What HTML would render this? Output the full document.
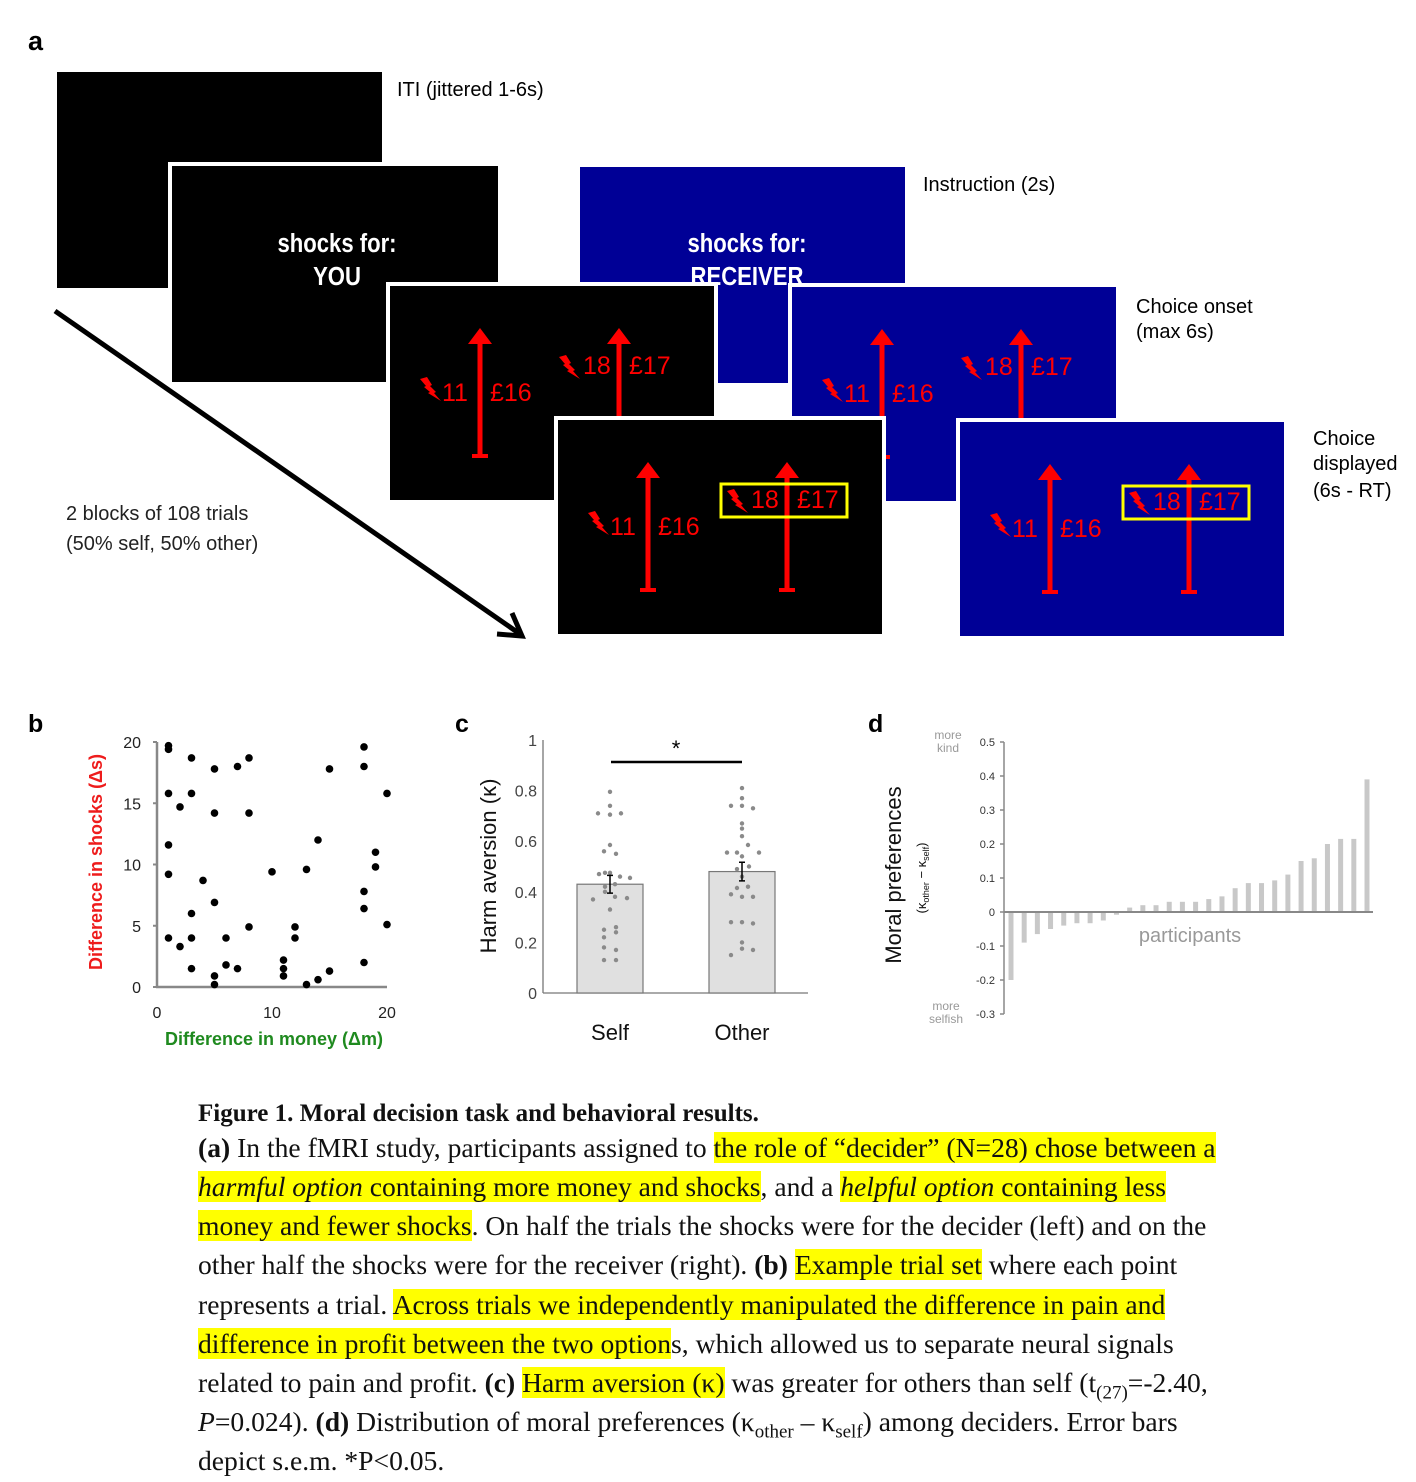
<!DOCTYPE html>
<html><head><meta charset="utf-8">
<style>
body{margin:0;background:#fff;width:1416px;height:1482px;overflow:hidden;position:relative;font-family:"Liberation Sans",sans-serif}
svg{position:absolute;left:0;top:0}
.cap{position:absolute;left:198px;font-family:"Liberation Serif",serif;font-size:27.6px;white-space:nowrap;color:#111;line-height:30px}
.hl{background:#ffff00}
</style></head>
<body>
<svg id="fig" width="1416" height="1482">
  <g>
    <text x="28" y="50" font-size="27" font-weight="bold">a</text>
    <rect x="57" y="72" width="325" height="216" fill="#000"/>
    <text x="397" y="96" font-size="20">ITI (jittered 1-6s)</text>
    <rect x="170" y="164" width="330" height="220" fill="#000" stroke="#fff" stroke-width="4"/>
    <g transform="translate(337,0) scale(0.85,1)" fill="#fff" font-size="26" font-weight="bold" text-anchor="middle">
      <text x="0" y="252">shocks for:</text>
      <text x="0" y="285">YOU</text>
    </g>
    <rect x="580" y="167" width="325" height="216" fill="#000096"/>
    <g transform="translate(747,0) scale(0.85,1)" fill="#fff" font-size="26" font-weight="bold" text-anchor="middle">
      <text x="0" y="252">shocks for:</text>
      <text x="0" y="285">RECEIVER</text>
    </g>
    <text x="923" y="191" font-size="20">Instruction (2s)</text>
    <g id="screens"></g>
    <text x="1136" y="313" font-size="20">Choice onset</text>
    <text x="1136" y="338" font-size="20">(max 6s)</text>
    <text x="1313" y="445" font-size="20">Choice</text>
    <text x="1313" y="470" font-size="20">displayed</text>
    <text x="1313" y="497" font-size="20">(6s - RT)</text>
    <text x="66" y="520" font-size="20" fill="#222">2 blocks of 108 trials</text>
    <text x="66" y="550" font-size="20" fill="#222">(50% self, 50% other)</text>
    <line x1="55" y1="311" x2="520" y2="634" stroke="#000" stroke-width="5"/>
    <polyline points="497,634 522,636 512,613" fill="none" stroke="#000" stroke-width="5"/>
  </g>

  <g id="pb">
    <text x="28" y="732" font-size="25" font-weight="bold">b</text>
    <text transform="translate(102,862) rotate(-90)" text-anchor="middle" font-size="18" font-weight="bold" fill="#ee1c1c">Difference in shocks (Δs)</text>
    <text x="274" y="1045" text-anchor="middle" font-size="18" font-weight="bold" fill="#1f8a1f">Difference in money (Δm)</text>
  </g>

  <g id="pc">
    <text x="455" y="732" font-size="25" font-weight="bold">c</text>
    <text transform="translate(496,866) rotate(-90)" text-anchor="middle" font-size="22" fill="#111">Harm aversion (κ)</text>
  </g>

  <g id="pd">
    <text x="868" y="732" font-size="25" font-weight="bold">d</text>
    <text transform="translate(901,875) rotate(-90)" text-anchor="middle" font-size="22" fill="#111">Moral preferences</text>
    <text transform="translate(926,878) rotate(-90)" text-anchor="middle" font-size="13" fill="#111">(κ<tspan font-size="9" dy="3">other</tspan><tspan dy="-3"> − κ</tspan><tspan font-size="9" dy="3">self</tspan><tspan dy="-3">)</tspan></text>
    <text x="948" y="739" text-anchor="middle" font-size="12" fill="#999">more</text>
    <text x="948" y="752" text-anchor="middle" font-size="12" fill="#999">kind</text>
    <text x="946" y="1010" text-anchor="middle" font-size="12" fill="#999">more</text>
    <text x="946" y="1023" text-anchor="middle" font-size="12" fill="#999">selfish</text>
    <text x="1190" y="942" text-anchor="middle" font-size="20" fill="#999">participants</text>
  </g>
</svg>

<div class="cap" style="top:1099px;font-size:25px;font-weight:bold">Figure 1. Moral decision task and behavioral results.</div>
<div class="cap" style="top:1133px"><b>(a)</b> In the fMRI study, participants assigned to <span class="hl">the role of “decider” (N=28) chose between a</span></div>
<div class="cap" style="top:1172px"><span class="hl"><i>harmful option</i> containing more money and shocks</span>, and a <span class="hl"><i>helpful option</i> containing less</span></div>
<div class="cap" style="top:1211px"><span class="hl">money and fewer shocks</span>. On half the trials the shocks were for the decider (left) and on the</div>
<div class="cap" style="top:1250px">other half the shocks were for the receiver (right). <b>(b)</b> <span class="hl">Example trial set</span> where each point</div>
<div class="cap" style="top:1290px">represents a trial. <span class="hl">Across trials we independently manipulated the difference in pain and</span></div>
<div class="cap" style="top:1329px"><span class="hl">difference in profit between the two option</span>s, which allowed us to separate neural signals</div>
<div class="cap" style="top:1368px">related to pain and profit. <b>(c)</b> <span class="hl">Harm aversion (κ)</span> was greater for others than self (t<sub style="font-size:19px">(27)</sub>=-2.40,</div>
<div class="cap" style="top:1407px"><i>P</i>=0.024). <b>(d)</b> Distribution of moral preferences (κ<sub style="font-size:19px">other</sub> – κ<sub style="font-size:19px">self</sub>) among deciders. Error bars</div>
<div class="cap" style="top:1446px">depict s.e.m. *P&lt;0.05.</div>

<script>
const NS='http://www.w3.org/2000/svg';
function mk(parent,tag,attrs,txt){const e=document.createElementNS(NS,tag);for(const k in attrs)e.setAttribute(k,attrs[k]);if(txt!==undefined)e.textContent=txt;parent.appendChild(e);return e;}

// ---------- panel a screens ----------
const screenX=[388,790,556,958];
const screenY=[284,285,418,420];
const screenBlue=[false,true,false,true];
const screenBox=[false,false,true,true];
const leftShock=[11,11,11,11], leftMoney=[16,16,16,16];
const rightShock=[18,18,18,18], rightMoney=[17,17,17,17];
const sc=document.getElementById('screens');
function bolt(g,x,y){
  const p=mk(g,'polygon',{points:[[0,2],[7,0],[12,8],[10,9],[16,15],[14,16],[21,24],[8,16],[10,15],[4,10],[6,9]].map(q=>(x+q[0])+','+(y+q[1])).join(' '),fill:'#f00'});
  
  
}
function arrow(g,x,y0){
  const l=mk(g,'rect',{x:x-2.5,y:y0+52,width:5,height:122,fill:'#f00'});
  
  
  mk(g,'polygon',{points:`${x-12},${y0+60} ${x},${y0+44} ${x+12},${y0+60}`,fill:'#f00'});
  mk(g,'rect',{x:x-8,y:y0+170,width:16,height:4,fill:'#f00'});
}
for(let i=0;i<screenX.length;i++){
  const x0=screenX[i],y0=screenY[i];
  const g=mk(sc,'g',{});
  
  
  mk(g,'rect',{x:x0,y:y0,width:328,height:218,fill:screenBlue[i]?'#000096':'#000',stroke:'#fff','stroke-width':4});
  arrow(g,x0+92,y0);arrow(g,x0+231,y0);
  bolt(g,x0+32,y0+93);
  const t1=mk(g,'text',{x:x0+54,y:y0+117,'font-size':25,fill:'#f00'},String(leftShock[i]));
  
  
  const t2=mk(g,'text',{x:x0+102,y:y0+117,'font-size':25,fill:'#f00'},'£'+leftMoney[i]);
  
  
  bolt(g,x0+171,y0+71);
  const t3=mk(g,'text',{x:x0+195,y:y0+90,'font-size':25,fill:'#f00'},String(rightShock[i]));
  
  
  const t4=mk(g,'text',{x:x0+241,y:y0+90,'font-size':25,fill:'#f00'},'£'+rightMoney[i]);
  
  
  if(screenBox[i]){
    const b=mk(g,'rect',{x:x0+165,y:y0+66,width:126,height:33,fill:'none',stroke:'#ffff00','stroke-width':3});
    
    
  }
}

// ---------- panel b ----------
const moneyDiff=[1,1,1,1,1,1,2,2,3,3,3,3,3,4,5,5,5,5,5,6,6,7,7,8,8,8,10,11,11,11,12,12,13,13,14,14,15,15,18,18,18,18,18,19,19,20,20];
const shockDiff=[19.7,19.4,15.8,11.6,9.2,4,14.7,3.3,18.7,15.8,6,4,1.5,8.7,17.8,14.2,6.9,0.9,0.2,4,1.8,18,1.5,18.7,14.2,4.9,9.4,2.2,1.5,0.9,4.9,4,9.6,0.2,12,0.6,17.8,1.3,19.6,18,7.8,6.4,2,11,9.8,15.8,5.1];
const bTicks=[0,5,10,15,20];
const bx=v=>157+v*11.5, by=v=>987-v*12.25;
const pb=document.getElementById('pb');
mk(pb,'line',{x1:bx(0),y1:by(20),x2:bx(0),y2:by(0)+1,stroke:'#888','stroke-width':2.5});
mk(pb,'line',{x1:bx(0)-1,y1:by(0),x2:bx(20),y2:by(0),stroke:'#888','stroke-width':2.5});
bTicks.forEach(t=>{
  mk(pb,'line',{x1:bx(0)-4,y1:by(t),x2:bx(0),y2:by(t),stroke:'#888','stroke-width':2});
  const l=mk(pb,'text',{x:bx(0)-16,y:by(t)+6,'text-anchor':'end','font-size':16,fill:'#222'},String(t));
  
  
});
[0,10,20].forEach(t=>{
  const l=mk(pb,'text',{x:bx(t),y:1018,'text-anchor':'middle','font-size':16,fill:'#222'},String(t));
  
  
});
moneyDiff.forEach((m,i)=>{
  const c=mk(pb,'circle',{cx:bx(m),cy:by(shockDiff[i]),r:3.8,fill:'#000'});
  
  
});

// ---------- panel c ----------
const condLabels=['Self','Other'];
const condMeans=[0.43,0.48];
const condSem=[0.035,0.037];
const selfVals=[0.795,0.74,0.71,0.705,0.71,0.585,0.56,0.55,0.47,0.475,0.475,0.46,0.455,0.42,0.43,0.40,0.38,0.37,0.375,0.33,0.25,0.26,0.22,0.24,0.18,0.17,0.13,0.13];
const selfJit=[0,0,-12,0,11,0,-6,6,-11,-5,0,10,20,-5,5,-5,5,-17,17,0,-6,6,-6,6,-6,6,-6,6];
const otherVals=[0.81,0.77,0.74,0.74,0.73,0.67,0.65,0.62,0.585,0.555,0.555,0.54,0.555,0.5,0.49,0.46,0.415,0.42,0.39,0.38,0.38,0.28,0.28,0.275,0.2,0.175,0.15,0.17];
const otherJit=[0,0,-11,0,11,0,0,0,6,-15,-5,0,17,7,-5,0,-5,6,-11,0,11,-11,0,11,0,0,-11,11];
const cTicks=[0,0.2,0.4,0.6,0.8,1];
const cy=v=>993-v*253;
const cCenters=[610,742];
const pc=document.getElementById('pc');
mk(pc,'line',{x1:543,y1:cy(1),x2:543,y2:cy(0),stroke:'#777','stroke-width':1.3});
mk(pc,'line',{x1:543,y1:cy(0),x2:808,y2:cy(0),stroke:'#777','stroke-width':1.3});
cTicks.forEach(t=>{
  const l=mk(pc,'text',{x:537,y:cy(t)+6,'text-anchor':'end','font-size':16,fill:'#444'},String(t));
  
  
});
condMeans.forEach((m,i)=>{
  const r=mk(pc,'rect',{x:cCenters[i]-33,y:cy(m),width:66,height:cy(0)-cy(m),fill:'#e0e0e0',stroke:'#777','stroke-width':1.2});
  
  
  const vals=i===0?selfVals:otherVals, jit=i===0?selfJit:otherJit;
  vals.forEach((v,k)=>{
    const d=mk(pc,'circle',{cx:cCenters[i]+jit[k],cy:cy(v),r:2.2,fill:'#8a8a8a'});
    
    
  });
  const e=mk(pc,'path',{d:`M${cCenters[i]-3},${cy(m+condSem[i])}h6M${cCenters[i]},${cy(m+condSem[i])}V${cy(m-condSem[i])}M${cCenters[i]-3},${cy(m-condSem[i])}h6`,stroke:'#000','stroke-width':1.5,fill:'none'});
  
  
  const l=mk(pc,'text',{x:cCenters[i],y:1040,'text-anchor':'middle','font-size':22,fill:'#111'},condLabels[i]);
  
  
});
const sig=mk(pc,'line',{x1:611,y1:762,x2:742,y2:762,stroke:'#000','stroke-width':2.5});


const star=mk(pc,'text',{x:676,y:756,'text-anchor':'middle','font-size':22,fill:'#000'},'*');



// ---------- panel d ----------
const moralPref=[-0.2,-0.09,-0.065,-0.05,-0.04,-0.033,-0.033,-0.025,-0.008,0.013,0.02,0.02,0.03,0.03,0.03,0.038,0.046,0.07,0.085,0.085,0.093,0.11,0.15,0.158,0.2,0.215,0.215,0.39];
const dTicks=[-0.3,-0.2,-0.1,0,0.1,0.2,0.3,0.4,0.5];
const dy=v=>912-v*340;
const dx=i=>1011+i*(356/(moralPref.length-1));
const pd=document.getElementById('pd');
moralPref.forEach((v,i)=>{
  const r=mk(pd,'rect',{x:dx(i)-2.5,y:Math.min(dy(v),dy(0)),width:5,height:Math.abs(dy(v)-dy(0)),fill:'#c8c8c8'});
  
  
});
mk(pd,'line',{x1:1004,y1:dy(0.5),x2:1004,y2:dy(-0.3),stroke:'#888','stroke-width':1.5});
mk(pd,'line',{x1:1004,y1:dy(0),x2:1373,y2:dy(0),stroke:'#888','stroke-width':2});
dTicks.forEach(t=>{
  mk(pd,'line',{x1:1000,y1:dy(t),x2:1004,y2:dy(t),stroke:'#888','stroke-width':1.5});
  const l=mk(pd,'text',{x:995,y:dy(t)+4,'text-anchor':'end','font-size':11,fill:'#333'},t===0?'0':String(t));
  
  
});
</script>
</body></html>
